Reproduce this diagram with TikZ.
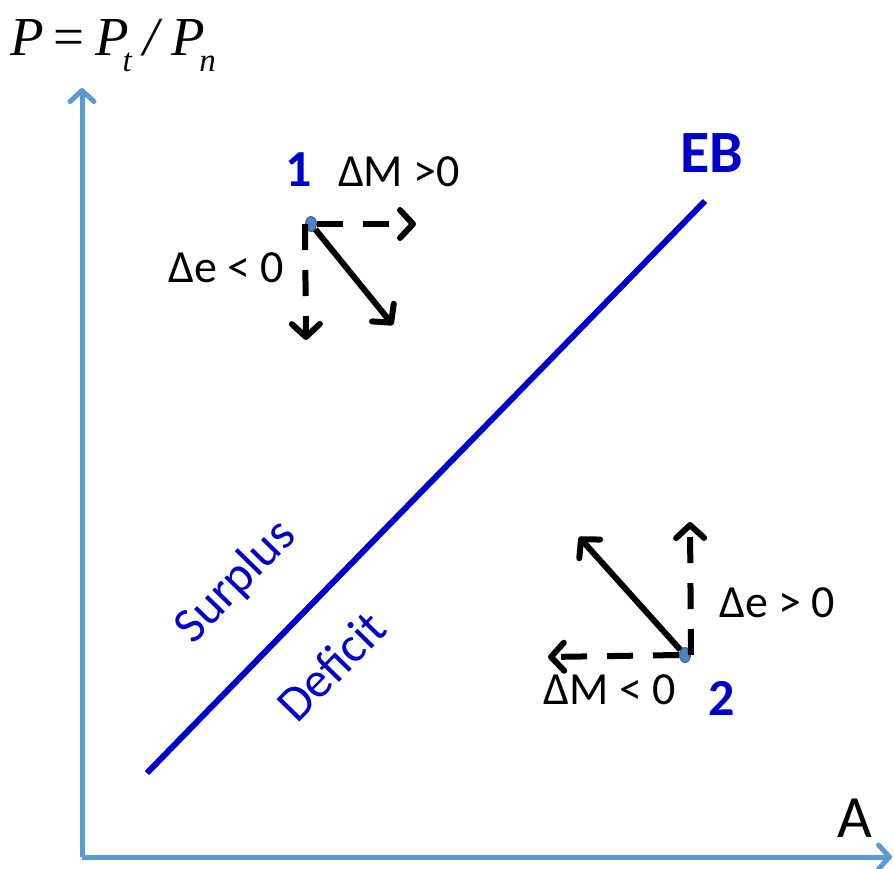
\documentclass[tikz,border=0pt]{standalone}
\usepackage{fontspec}
\setmainfont{Carlito}
\newfontfamily\eqfont{Liberation Serif}
\usetikzlibrary{arrows.meta, positioning, shapes.geometric}
\definecolor{axisblue}{HTML}{5B9BD5}
\definecolor{ebblue}{HTML}{0000CC}
\definecolor{dotfill}{HTML}{4F81BD}
\definecolor{dotedge}{HTML}{3A6796}
\definecolor{ink}{HTML}{000000}
\tikzset{
  axis/.style     ={draw=axisblue, line width=5pt,
                    -{Straight Barb[length=11pt,width=24pt,round]}},
  ebline/.style   ={draw=ebblue, line width=6pt},
  flowd/.style    ={draw=ink, line width=6pt, dash pattern=on 26pt off 20pt,
                    -{Straight Barb[length=13pt,width=28pt,round]}},
  flows/.style    ={draw=ink, line width=6pt,
                    -{Straight Barb[length=13pt,width=28pt,round]}},
  pt/.style       ={ellipse, fill=dotfill, draw=dotedge, line width=1pt,
                    minimum width=11pt, minimum height=15pt, inner sep=0pt},
  delta/.style    ={font=\fontsize{46}{52}\selectfont, text=ink, inner sep=0pt},
  ptlabel/.style  ={font=\fontsize{52}{58}\selectfont\bfseries, text=ebblue, inner sep=0pt},
  region/.style   ={font=\fontsize{50}{56}\selectfont, text=ebblue, inner sep=0pt, rotate=45.7}
}
\newcommand{\lowsub}[1]{\raisebox{-0.3em}{\fontsize{33}{38}\selectfont #1}}
\begin{document}
\begin{tikzpicture}[x=1pt, y=-1pt]
  \useasboundingbox (0,0) rectangle (894,868);

  % axes
  \coordinate (origin) at (82,857);
  \coordinate (ytip) at (82,88);
  \coordinate (xtip) at (892,857);
  \draw[axis] (origin) -- (ytip);
  \draw[axis] (origin) -- (xtip);
  \node[inner sep=0pt, anchor=base west] (ylab) at (10,55)
    {\eqfont\fontsize{55}{62}\selectfont\itshape P\kern0.18em\upshape=\kern0.2em\itshape P\kern-0.12em\lowsub{t}\kern0.22em/\kern0.22em P\kern-0.1em\lowsub{n}};
  \node[font=\fontsize{60}{66}\selectfont, inner sep=0pt] (xlab) at (855,818) {A};

  % EB line
  \coordinate (eb0) at (147,773);
  \coordinate (eb1) at (705,201);
  \draw[ebline] (eb0) -- (eb1);
  \node[font=\fontsize{60}{66}\selectfont\bfseries, text=ebblue, inner sep=0pt] (eb) at (712,153) {EB};
  \node[region] (surplus) at (236,582) {Surplus};
  \node[region] (deficit) at (331,666) {Deficit};

  % point 1
  \node[pt] (p1) at (311,224) {};
  \node[ptlabel] (n1) at (299,170) {1};
  \coordinate (m1) at (416,224);
  \coordinate (e1) at (306,340);
  \coordinate (d1) at (393,325);
  \draw[flowd] (p1.east) -- (m1);
  \draw[flowd] (p1.west) -- (e1);
  \draw[flows] (p1) -- (d1);
  \node[delta] (dm1) at (399,172) {ΔM >0};
  \node[delta] (de1) at (226,268) {Δe < 0};

  % point 2
  \node[pt] (p2) at (685,655) {};
  \node[ptlabel] (n2) at (722,698) {2};
  \coordinate (m2) at (548,657);
  \coordinate (e2) at (690,522);
  \coordinate (d2) at (579,537);
  \draw[flowd] (p2.west) -- (m2);
  \draw[flowd] (p2.east) -- (e2);
  \draw[flows] (p2) -- (d2);
  \node[delta] (dm2) at (610,690) {ΔM < 0};
  \node[delta] (de2) at (777,603) {Δe > 0};
\end{tikzpicture}
\end{document}
